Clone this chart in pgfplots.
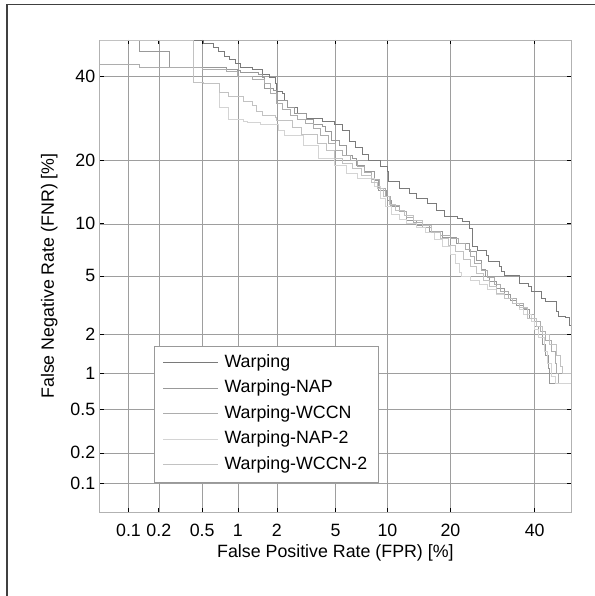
\documentclass[border=0pt]{standalone}
\usepackage{pgfplots}
\usepackage{pgfplotstable}
\pgfplotsset{compat=1.18}
\usepackage{fontspec}
\setmainfont{Liberation Sans}

% normal deviate of a percentage (Abramowitz-Stegun 26.2.23), valid for p <= 50
\pgfmathdeclarefunction{probit}{1}{%
  \pgfmathparse{sqrt(-2*ln(#1/100))}\let\PT\pgfmathresult
  \pgfmathparse{-(\PT-(2.515517+0.802853*\PT+0.010328*\PT*\PT)/(1+1.432788*\PT+0.189269*\PT*\PT+0.001308*\PT*\PT*\PT))}%
}

\pgfplotstableread{
0.42 50
0.51 49
0.62 48
0.69 46.8
0.77 45.5
0.85 44.5
0.95 43.5
1.05 42.5
1.3 41.8
1.55 40.5
1.75 39.6
1.95 38.2
2.0 36.1
2.2 35.6
2.25 33.6
2.4 31.8
2.8 30.5
3.25 29.3
4.1 28.6
4.95 27.7
5.5 26.5
6.1 24
6.6 22.6
7.3 21.2
7.9 20
9.1 19
10 18
10.05 16.3
11.5 15.1
13 14.2
14 13.5
15.8 12.7
17.4 11.8
18.8 10.9
21.3 10.7
22.4 10.3
23.9 9.46
24.5 8.34
24.6 7.5
25.6 7.1
27.7 6.66
28.2 6.13
30.9 5.73
31.2 5.34
32 5.03
35.8 4.48
38.4 4.28
39.2 3.97
41.9 3.57
42.9 3.45
45.2 3.4
45.8 2.92
46.6 2.69
48.5 2.65
49.6 2.33
50 2.33
}\warping

\pgfplotstableread{
0.05 50
0.13 46.8
0.25 42.3
0.8 41.8
1.0 41.5
1.05 41
1.45 40.4
1.55 39.6
1.6 36.8
1.9 36.3
2.0 33.8
2.4 31.8
2.65 30.5
3.25 28.9
3.6 27.7
4.1 27.4
4.3 26.2
4.7 24.2
5.3 23.2
5.8 21.1
6.3 20.5
6.7 19.1
7.5 18
8.5 16.4
8.9 14.8
9.9 14
10.0 13.2
10.5 12.3
11.5 11.6
12.5 10.4
14 9.8
16.1 9.1
18.4 8.5
21.2 7.8
23.9 7.0
25.5 6.2
26.5 5.5
27.5 5.0
28.5 4.6
30 4.2
32 3.8
33.5 3.5
35 3.2
37 3.0
38.5 2.6
40 2.3
41 2.0
42 1.7
43 1.4
43.8 1.1
44 0.83
50 0.83
}\nap

\pgfplotstableread{
0.05 43.2
0.13 42.5
0.5 42
0.8 41.2
1.0 40
1.3 39.2
1.6 38
1.8 35.5
2.0 33
2.2 31.5
2.5 30
2.8 29
3.2 28
3.6 26.8
4.0 25.2
4.5 23.5
5.0 22
5.5 21
6.2 20
6.8 19
7.5 17.8
8.2 16.5
9.0 15
9.8 13.8
10.3 12.5
11.5 11.6
12.5 10.8
13.5 10.2
15 9.6
16.5 9.1
18 8.7
20 8.3
21.5 7.8
23 7.2
24 6.6
25 6.0
26.5 5.4
28 4.9
29.5 4.4
31 4.0
33 3.6
35 3.3
37 3.05
38 2.8
40 2.5
41.5 2.1
43 1.8
44.5 1.5
45.5 1.2
46 1.0
46.5 0.83
50 0.83
}\wccn

\pgfplotstableread{
0.05 50
0.42 38.5
0.51 38
0.7 31.8
0.83 29.1
1.1 28.6
1.2 28.2
1.5 27.7
2.05 26.5
2.25 25.3
3.1 23.1
3.9 20.5
4.95 19.1
5.8 17.7
6.8 16.8
8.5 15.4
9.1 13.5
9.8 12.3
10.5 11.2
11.5 10.6
12.5 10.1
14 9.6
15.5 9.0
17 8.2
18.5 7.5
20 6.8
21 6.0
21.8 5.3
22.2 5.0
24 4.7
26 4.4
28 4.1
30 3.8
32 3.6
34 3.3
36 3.0
37 2.8
39 2.5
40 2.2
41 1.9
42.5 1.5
43.5 1.2
44.5 0.95
45.5 0.83
50 0.83
}\naptwo

\pgfplotstableread{
0.05 50
0.42 38.5
0.51 38
0.7 35.8
0.83 34.7
1.1 33.5
1.3 32.5
1.4 31
1.55 30
1.95 29.5
2.0 28.8
2.6 27.2
3.0 25.5
3.8 23.5
4.4 22
4.95 20.5
5.5 19.5
6.3 18.5
7.2 17.2
8.2 16
8.8 15
9.5 13.8
10.2 12.6
11 11.8
12.2 11.1
13.5 10.4
15 9.8
16.5 9.0
18 8.3
19.5 7.6
21 7.0
22.5 6.3
24 5.7
25.5 5.2
27 4.7
28.5 4.3
30 3.9
32 3.6
34 3.3
36 3.1
38 2.6
40.5 2.3
42 2.0
44 1.7
46 1.4
47 1.15
47.5 1.0
50 1.0
}\wccntwo

\begin{document}
\fontsize{17.8bp}{21bp}\selectfont
\begin{tikzpicture}
\useasboundingbox (0bp,0bp) rectangle (595bp,596bp);
\fill[white] (0bp,0bp) rectangle (595bp,596bp);
\draw[black!75, line width=1.2bp] (7bp,0bp) -- (7bp,591.5bp) -- (595bp,591.5bp);
\begin{axis}[
  at={(99.8bp,84bp)}, anchor=south west,
  scale only axis, width=471.2bp, height=472bp,
  xmin=-3.2905, xmax=0, ymin=-3.2905, ymax=0,
  xtick={-3.0902,-2.8782,-2.5758,-2.3263,-2.0537,-1.6449,-1.2816,-0.8416,-0.2533},
  ytick={-3.0902,-2.8782,-2.5758,-2.3263,-2.0537,-1.6449,-1.2816,-0.8416,-0.2533},
  xticklabels={0.1,0.2,0.5,1,2,5,10,20,40},
  yticklabels={0.1,0.2,0.5,1,2,5,10,20,40},
  xmajorgrids, ymajorgrids,
  grid style={black!38, line width=0.6bp},
  axis line style={black!30, line width=0.8bp},
  tick align=inside, major tick length=4bp,
  tick style={black, line width=0.7bp},
  xticklabel style={yshift=-6bp},
  yticklabel style={xshift=1.5bp},
  /pgf/number format/assume math mode=true,
  xlabel={False Positive Rate (FPR) [\%]},
  ylabel={False Negative Rate (FNR) [\%]},
  xlabel style={at={(axis description cs:0.5,-0.0875)}, anchor=center},
  ylabel style={at={(axis description cs:-0.1072,0.5)}, anchor=center},
  legend cell align=left,
  legend image code/.code={\draw[#1] (0bp,0bp) -- (55bp,0bp);},
  legend style={at={(0.1144,0.0636)}, anchor=south west, draw=black!40,
    fill=white, inner xsep=9bp, inner ysep=7bp, row sep=5.5bp, column sep=4bp,
    nodes={inner sep=2bp, text height=12.5bp, text depth=3.5bp},
    cells={anchor=west}},
]
\addplot[const plot, color=black!52, line width=0.7bp] table[x expr={probit(\thisrowno{0})}, y expr={probit(\thisrowno{1})}] {\warping};
\addlegendentry{Warping}
\addplot[const plot, color=black!40, line width=0.7bp] table[x expr={probit(\thisrowno{0})}, y expr={probit(\thisrowno{1})}] {\nap};
\addlegendentry{Warping-NAP}
\addplot[const plot, color=black!32, line width=0.7bp] table[x expr={probit(\thisrowno{0})}, y expr={probit(\thisrowno{1})}] {\wccn};
\addlegendentry{Warping-WCCN}
\addplot[const plot, color=black!17, line width=0.7bp] table[x expr={probit(\thisrowno{0})}, y expr={probit(\thisrowno{1})}] {\naptwo};
\addlegendentry{Warping-NAP-2}
\addplot[const plot, color=black!24, line width=0.7bp] table[x expr={probit(\thisrowno{0})}, y expr={probit(\thisrowno{1})}] {\wccntwo};
\addlegendentry{Warping-WCCN-2}
\end{axis}
\end{tikzpicture}
\end{document}
